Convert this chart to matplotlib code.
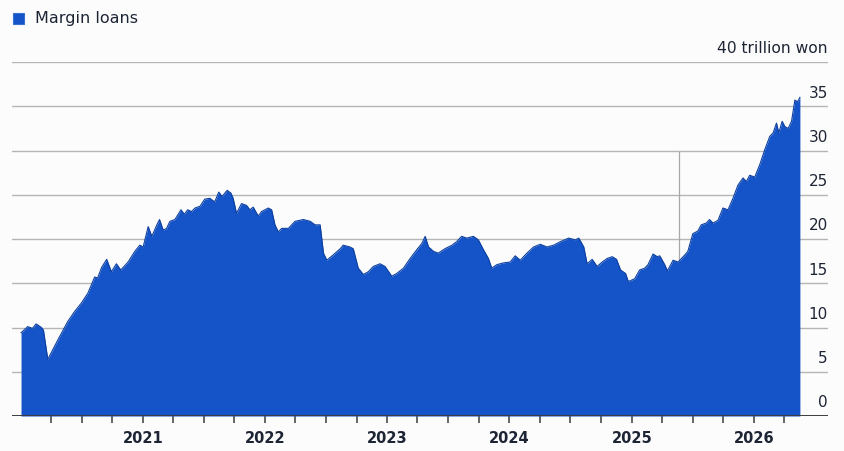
import matplotlib
matplotlib.use("Agg")
import matplotlib.pyplot as plt
import matplotlib.dates as mdates
import pandas as pd
from matplotlib.patches import Rectangle
from matplotlib.transforms import blended_transform_factory, offset_copy

# margin loan balance, trillion won
dates = [
    "2020-01-02", "2020-01-22", "2020-02-05", "2020-02-16", "2020-03-03", "2020-03-09",
    "2020-03-22", "2020-04-21", "2020-05-21", "2020-06-10", "2020-07-01", "2020-07-20",
    "2020-08-09", "2020-08-18", "2020-08-30", "2020-09-14", "2020-09-28", "2020-10-13",
    "2020-10-26", "2020-11-17", "2020-12-07", "2020-12-22", "2021-01-01", "2021-01-12",
    "2021-01-16", "2021-01-27", "2021-02-11", "2021-02-19", "2021-03-02", "2021-03-12",
    "2021-03-22", "2021-04-06", "2021-04-24", "2021-05-04", "2021-05-14", "2021-05-26",
    "2021-06-05", "2021-06-20", "2021-07-04", "2021-07-19", "2021-08-03", "2021-08-15",
    "2021-08-25", "2021-09-09", "2021-09-20", "2021-09-27", "2021-10-07", "2021-10-22",
    "2021-11-06", "2021-11-16", "2021-11-26", "2021-12-11", "2021-12-21", "2022-01-10",
    "2022-01-20", "2022-01-30", "2022-02-09", "2022-02-19", "2022-03-11", "2022-03-31",
    "2022-04-25", "2022-05-15", "2022-05-30", "2022-06-14", "2022-06-24", "2022-07-04",
    "2022-07-23", "2022-08-13", "2022-08-22", "2022-09-11", "2022-09-21", "2022-10-06",
    "2022-10-21", "2022-11-05", "2022-11-20", "2022-12-10", "2022-12-25", "2023-01-14",
    "2023-01-29", "2023-02-18", "2023-03-10", "2023-03-30", "2023-04-14", "2023-04-24",
    "2023-05-04", "2023-05-19", "2023-06-02", "2023-06-22", "2023-07-13", "2023-07-27",
    "2023-08-11", "2023-08-26", "2023-09-15", "2023-09-30", "2023-10-15", "2023-10-30",
    "2023-11-09", "2023-11-24", "2023-12-14", "2024-01-03", "2024-01-18", "2024-02-02",
    "2024-02-22", "2024-03-13", "2024-04-02", "2024-04-22", "2024-05-12", "2024-06-01",
    "2024-06-26", "2024-07-16", "2024-07-26", "2024-08-10", "2024-08-20", "2024-09-04",
    "2024-09-19", "2024-10-04", "2024-10-19", "2024-11-03", "2024-11-16", "2024-11-28",
    "2024-12-13", "2024-12-21", "2025-01-09", "2025-01-24", "2025-02-08", "2025-02-18",
    "2025-03-05", "2025-03-18", "2025-03-25", "2025-04-09", "2025-04-17", "2025-05-04",
    "2025-05-19", "2025-06-08", "2025-06-17", "2025-07-02", "2025-07-17", "2025-07-27",
    "2025-08-11", "2025-08-21", "2025-08-31", "2025-09-15", "2025-09-30", "2025-10-15",
    "2025-10-30", "2025-11-14", "2025-11-29", "2025-12-09", "2025-12-19", "2026-01-03",
    "2026-01-18", "2026-02-02", "2026-02-17", "2026-02-27", "2026-03-09", "2026-03-16",
    "2026-03-26", "2026-04-03", "2026-04-13", "2026-04-23", "2026-05-03", "2026-05-11",
    "2026-05-18",
]
loans = [
    9.4, 10.1, 9.9, 10.4, 10.0, 9.7,
    6.4, 8.6, 10.7, 11.8, 12.8, 13.9,
    15.7, 15.6, 16.8, 17.7, 16.3, 17.2,
    16.5, 17.4, 18.6, 19.3, 19.1, 20.8,
    21.4, 20.3, 21.6, 22.2, 21.0, 21.2,
    22.0, 22.2, 23.3, 22.8, 23.3, 23.1,
    23.5, 23.7, 24.5, 24.6, 24.2, 25.3,
    24.8, 25.5, 25.2, 24.6, 22.9, 24.0,
    23.8, 23.3, 23.6, 22.6, 23.1, 23.5,
    23.3, 21.6, 20.8, 21.2, 21.2, 22.0,
    22.2, 22.0, 21.6, 21.6, 18.4, 17.6,
    18.2, 18.9, 19.3, 19.1, 18.9, 16.7,
    16.0, 16.3, 16.9, 17.2, 16.9, 15.8,
    16.1, 16.7, 17.8, 18.8, 19.5, 20.3,
    19.1, 18.6, 18.4, 18.9, 19.3, 19.7,
    20.3, 20.1, 20.3, 19.9, 18.8, 17.8,
    16.7, 17.1, 17.3, 17.4, 18.1, 17.6,
    18.4, 19.1, 19.4, 19.1, 19.3, 19.7,
    20.1, 19.9, 20.1, 19.1, 17.2, 17.7,
    16.9, 17.4, 17.8, 18.0, 17.7, 16.5,
    16.1, 15.2, 15.5, 16.5, 16.7, 17.1,
    18.3, 18.0, 18.1, 17.1, 16.4, 17.6,
    17.4, 18.2, 18.6, 20.6, 20.9, 21.6,
    21.8, 22.2, 21.8, 22.1, 23.5, 23.3,
    24.6, 26.1, 26.9, 26.5, 27.2, 27.0,
    28.4, 30.1, 31.6, 32.0, 33.1, 32.0,
    33.3, 32.7, 32.5, 33.3, 35.7, 35.5,
    36.0,
]
y_ticks = [0, 5, 10, 15, 20, 25, 30, 35]
y_top = 40
unit_label = "40 trillion won"
series_name = "Margin loans"
year_labels = ["2021", "2022", "2023", "2024", "2025", "2026"]
quarter_ticks = pd.date_range("2020-04-01", "2026-04-01", freq="QS")
marker_date = "2025-05-21"
marker_top = 30

blue = "#1454c8"
edge_blue = "#0d3f9f"
ink = "#1d2535"

x = pd.to_datetime(dates)

fig = plt.figure(figsize=(8.45, 4.51), dpi=100)
fig.patch.set_facecolor("#fcfcfc")
ax = fig.add_axes([12 / 845, 1 - 416 / 451, 816 / 845, 354 / 451])
ax.set_facecolor("#fcfcfc")

for v in y_ticks[1:] + [y_top]:
    ax.axhline(v, color="#b5b5b5", lw=1.0, zorder=1)

ax.vlines(pd.Timestamp(marker_date), 0, marker_top, color="#a8a8a8", lw=0.9, zorder=1)

ax.fill_between(x, loans, 0, color=blue, lw=0, zorder=2)
ax.plot(x, loans, color=edge_blue, lw=0.8, zorder=3)
ax.axhline(0, color="#3c3c3c", lw=1.4, zorder=4)

ax.set_xlim(pd.Timestamp("2019-12-06"), pd.Timestamp("2026-08-10"))
ax.set_ylim(0, y_top)

for s in ax.spines.values():
    s.set_visible(False)
ax.set_yticks([])

ax.set_xticks(pd.to_datetime([y + "-01-01" for y in year_labels]))
ax.set_xticklabels(year_labels)
ax.set_xticks([d for d in quarter_ticks if d.month != 1], minor=True)
ax.tick_params(axis="x", which="both", length=5, width=1.1, color="#3c3c3c",
               direction="out", pad=6)
ax.tick_params(axis="x", which="major", labelsize=10.5, labelcolor=ink)
for lab in ax.get_xticklabels():
    lab.set_fontweight("bold")

trans = blended_transform_factory(ax.transAxes, ax.transData)
trans = offset_copy(trans, fig=fig, x=0, y=4, units="points")
for v in y_ticks:
    ax.text(1.0, v, str(v), transform=trans, ha="right", va="bottom",
            fontsize=11, color=ink)
ax.text(1.0, y_top, unit_label, transform=trans, ha="right", va="bottom",
        fontsize=11.2, color=ink)

fig.patches.append(Rectangle((13 / 845, 1 - 24 / 451), 11 / 845, 11 / 451,
                             transform=fig.transFigure, facecolor=blue,
                             edgecolor="#3a6fd0", lw=0.8))
fig.text(35 / 845, 1 - 18 / 451, series_name, ha="left", va="center",
         fontsize=11.5, color=ink)

fig.savefig("out.png", dpi=100, facecolor=fig.get_facecolor())
